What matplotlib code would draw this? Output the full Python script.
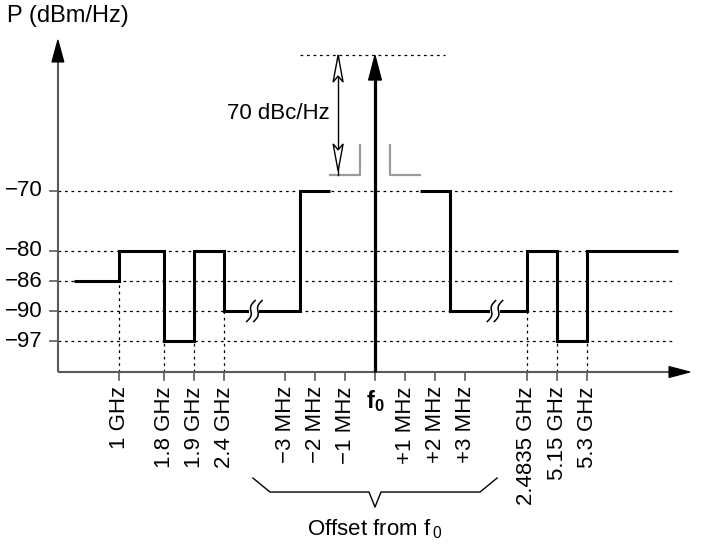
import numpy as np
import matplotlib
matplotlib.use('Agg')
import matplotlib.pyplot as plt
from matplotlib import transforms
from matplotlib.patches import Polygon, Rectangle

plt.rcParams['font.family'] = ['Liberation Sans', 'DejaVu Sans']
plt.rcParams['mathtext.fontset'] = 'custom'
plt.rcParams['mathtext.rm'] = 'Liberation Sans'
plt.rcParams['mathtext.it'] = 'Liberation Sans'
plt.rcParams['mathtext.bf'] = 'Liberation Sans:bold'
plt.rcParams['mathtext.default'] = 'regular'

# ---------------- data ----------------
level_ticks = [-70, -80, -86, -90, -97]              # dBm/Hz
tick_labels = ['1 GHz', '1.8 GHz', '1.9 GHz', '2.4 GHz',
               '\u22123 MHz', '\u22122 MHz', '\u22121 MHz', 'f0',
               '+1 MHz', '+2 MHz', '+3 MHz',
               '2.4835 GHz', '5.15 GHz', '5.3 GHz']
tick_pos = [-8.53, -7.02, -6.02, -5.02, -3, -2, -1, 0, 1, 2, 3, 5.06, 6.08, 7.08]

left_edges = [-10.05, -8.53, -7.02, -6.02, -5.02, -2.5, -1.5]
left_levels = [-86, -80, -97, -80, -90, -70]
right_edges = [1.5, 2.5, 5.06, 6.08, 7.08, 10.1]
right_levels = [-70, -90, -80, -97, -80]

carrier_level = -47.4
notch_level = -67.4
notch_top = -62.4
notch_span = [0.5, 1.5]
break_x = [-4.02, 4.0]
break_level = -90
dbc_label = '70 dBc/Hz'

# ---------------- figure / scales ----------------
W, H = 709, 548
fig = plt.figure(figsize=(W / 100, H / 100), dpi=100)
ax = fig.add_axes([0, 0, 1, 1])
ax.set_axis_off()

DB_A = [-150, -97, -90, -86, -80, -70, -30]
POS_A = [-196.1, 31, 61, 91, 121.3, 181.3, 421.3]
ax.set_yscale('function', functions=(lambda v: np.interp(v, DB_A, POS_A),
                                      lambda p: np.interp(p, POS_A, DB_A)))
ax.set_xlim(-12.5, 11.133)
ax.set_ylim(-145.3, -38.22)


def yd(pixel_y):
    return float(np.interp(372 - pixel_y, POS_A, DB_A))


floor = yd(372)
yaxis_x = -10.57
ID = transforms.IdentityTransform()


def head(xy, direction, length, width, fc='black', ec='black', notch=0.0, lw=0.8, z=6):
    tx, ty = ax.transData.transform(xy)
    d = np.array(direction, float)
    d /= np.linalg.norm(d)
    n = np.array([-d[1], d[0]])
    tip = np.array([tx, ty])
    base = tip - d * length
    pts = [tip, base + n * width / 2, base + d * notch, base - n * width / 2]
    ax.add_patch(Polygon(pts, closed=True, fc=fc, ec=ec, lw=lw, transform=ID,
                         zorder=z, joinstyle='miter'))


dot = dict(color='black', lw=0.9, dashes=(2.2, 3.0), zorder=1)

# horizontal dotted level lines
for lv in level_ticks:
    ax.plot([yaxis_x, 10.0], [lv, lv], **dot)
# carrier reference line
ax.plot([-2.5, 2.33], [carrier_level, carrier_level], **dot)

# vertical dotted lines from ticks to mask corners
for edges, lvls in ((left_edges, left_levels), (right_edges, right_levels)):
    for i in range(1, len(edges) - 1):
        if edges[i] in tick_pos:
            ax.plot([edges[i], edges[i]], [floor, min(lvls[i - 1], lvls[i])], **dot)

# axes
axis_col = '#5a5a5a'
ax.plot([yaxis_x, 10.2], [floor, floor], color=axis_col, lw=1.5, zorder=3, solid_capstyle='butt')
ax.plot([yaxis_x, yaxis_x], [floor, yd(55)], color=axis_col, lw=1.5, zorder=3, solid_capstyle='butt')
head((10.5, floor), (1, 0), 21, 11)
head((yaxis_x, yd(40)), (0, 1), 22, 12)

# y ticks and labels
for lv in level_ticks:
    ax.plot([yaxis_x - 0.27, yaxis_x], [lv, lv], color=axis_col, lw=1.2, zorder=3)
    ax.text(-11.07, lv, '\u2212%d' % abs(lv), ha='right', va='center', fontsize=16)

# x ticks and labels
for x, lab in zip(tick_pos, tick_labels):
    ax.plot([x, x], [floor, yd(380)], color=axis_col, lw=1.2, zorder=3)
    if lab == 'f0':
        ax.text(x, yd(388), 'f$_0$', ha='center', va='top', fontsize=17, fontweight='bold')
    else:
        ax.text(x, yd(386), lab, ha='center', va='top', rotation=90, fontsize=16)

# mask
ax.stairs(left_levels, left_edges, baseline=None, color='black', lw=2.2, zorder=4)
ax.stairs(right_levels, right_edges, baseline=None, color='black', lw=2.2, zorder=4)

# break marks
for bx in break_x:
    cx, cy = ax.transData.transform((bx, break_level))
    ax.add_patch(Rectangle((cx - 5, cy - 3), 10, 6, fc='white', ec='none', transform=ID, zorder=5))
    t = np.linspace(-1, 1, 40)
    for off in (-3.5, 3.5):
        xs = cx + off + 4.2 * t - 2.0 * np.sin(np.pi * t)
        ys = cy + 10.5 * t
        ax.plot(xs, ys, color='black', lw=1.1, transform=ID, zorder=6)

# carrier
ax.plot([0, 0], [floor, yd(70)], color='black', lw=2.3, zorder=5, solid_capstyle='butt')
head((0, carrier_level), (0, 1), 25, 13)

# notch (grey)
grey = '#9b9b9b'
ax.plot([-notch_span[1], -notch_span[0], -notch_span[0]], [notch_level, notch_level, notch_top],
        color=grey, lw=1.6, zorder=3)
ax.plot([notch_span[0], notch_span[0], notch_span[1]], [notch_top, notch_level, notch_level],
        color=grey, lw=1.6, zorder=3)

# 70 dBc/Hz double arrow
ax_x = -1.23
ax.plot([ax_x, ax_x], [carrier_level, notch_level], color='black', lw=1.0, zorder=5)
head((ax_x, carrier_level), (0, 1), 27, 10, fc='white', notch=6, lw=1.0)
head((ax_x, notch_level + 0.7), (0, -1), 27, 10, fc='white', notch=6, lw=1.0)
ax.text(-1.5, yd(114), dbc_label, ha='right', va='center', fontsize=16)

# brace
bxs = [-4.07, -3.5, -0.2, 0, 0.2, 3.5, 4.07]
bys = [yd(p) for p in (478, 492, 492, 507, 492, 492, 478)]
ax.plot(bxs, bys, color='black', lw=1.0, zorder=3)
ax.text(0, yd(529), 'Offset from f$\\,_0$', ha='center', va='center', fontsize=16)

fig.text(7 / W, 1 - 16 / H, 'P (dBm/Hz)', ha='left', va='center', fontsize=17)

fig.savefig('out.png', dpi=100)
